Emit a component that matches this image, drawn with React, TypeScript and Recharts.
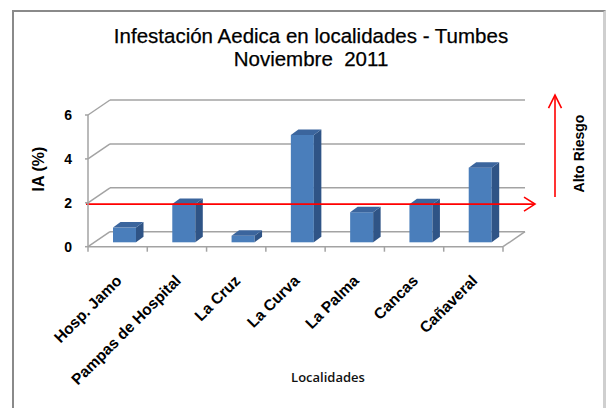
import React from 'react';
import { BarChart, Bar, XAxis, YAxis, CartesianGrid, ReferenceLine, Customized } from 'recharts';

const categories = ['Hosp. Jamo', 'Pampas de Hospital', 'La Cruz', 'La Curva', 'La Palma', 'Cancas', 'Cañaveral'];
const iaValues = [0.67, 1.74, 0.3, 4.89, 1.37, 1.73, 3.4];
const yTicks = [0, 2, 4, 6];
const riskThreshold = 1.94;
const titleLines = ['Infestación Aedica en localidades - Tumbes', 'Noviembre  2011'];
const yAxisTitle = 'IA (%)';
const xAxisTitle = 'Localidades';
const riskLabel = 'Alto Riesgo';

const data = categories.map((name, i) => ({ name, ia: iaValues[i] }));

const FONT = '"Liberation Sans", Arial, sans-serif';
const GRID = '#a3a3a3';
const RED = '#ff0000';
const DX = 22;
const DY = -15;
const BOX = 7;
const BOY = -4.4;
const BDX = 7.5;
const BDY = -5.5;

const GridLine = (props: any) => {
  const { x1, y1, x2, y2, index } = props;
  return (
    <g>
      <line x1={x1} y1={y1} x2={x1 + DX} y2={y1 + DY} stroke={GRID} strokeWidth={1.5} />
      <line x1={x1 + DX} y1={y1 + DY} x2={x2 + DX} y2={y2 + DY} stroke={GRID} strokeWidth={1.5} />
      {index === 0 && <line x1={x2} y1={y2} x2={x2 + DX} y2={y2 + DY} stroke={GRID} strokeWidth={1.5} />}
    </g>
  );
};

const Bar3D = (props: any) => {
  const { x, y, width, height } = props;
  if (height == null || isNaN(height)) return null;
  const fx = x + BOX;
  const fy = y + BOY;
  const w = width;
  const h = height;
  const top = `${fx},${fy} ${fx + BDX},${fy + BDY} ${fx + w + BDX},${fy + BDY} ${fx + w},${fy}`;
  const side = `${fx + w},${fy} ${fx + w + BDX},${fy + BDY} ${fx + w + BDX},${fy + h + BDY} ${fx + w},${fy + h}`;
  return (
    <g>
      <rect x={fx} y={fy} width={w} height={h} fill="#4a7ebb" />
      <polygon points={side} fill="#2f5486" />
      <polygon points={top} fill="#3b659d" />
    </g>
  );
};

const RiskArrows = (props: any) => {
  const { x1, y1, x2 } = props;
  const tipX = x2 + 32;
  const vx = x2 + 52;
  const vTop = y1 - 109;
  const vBottom = y1 - 7;
  return (
    <g fill="none" stroke={RED} strokeWidth={1.6}>
      <line x1={x1 - 2} y1={y1} x2={tipX} y2={y1} />
      <polyline points={`${tipX - 11},${y1 - 7} ${tipX},${y1} ${tipX - 11},${y1 + 7}`} />
      <line x1={vx} y1={vBottom} x2={vx} y2={vTop} />
      <polyline points={`${vx - 6.5},${vTop + 13} ${vx},${vTop} ${vx + 6.5},${vTop + 13}`} />
    </g>
  );
};

const CatTick = (props: any) => {
  const { x, y, payload, index } = props;
  const half = payload && payload.offset ? payload.offset : 29.6;
  const ax = x + 5;
  const ay = y + 35;
  return (
    <g>
      <line x1={x - half} y1={y} x2={x - half} y2={y + 5} stroke={GRID} strokeWidth={1.5} />
      {index === categories.length - 1 && (
        <line x1={x + half} y1={y} x2={x + half} y2={y + 5} stroke={GRID} strokeWidth={1.5} />
      )}
      <text
        x={ax}
        y={ay}
        transform={`rotate(-45 ${ax} ${ay})`}
        textAnchor="end"
        fontFamily={FONT}
        fontWeight="bold"
        fontSize={15.5}
        fill="#000"
      >
        {payload.value}
      </text>
    </g>
  );
};

const Decorations = () => (
  <g>
    {titleLines.map((t, i) => (
      <text
        key={i}
        x={311}
        y={43 + i * 23}
        textAnchor="middle"
        fontFamily={FONT}
        fontSize={20.5}
        fill="#000"
        stroke="#000"
        strokeWidth={0.25}
        style={{ whiteSpace: 'pre' }}
      >
        {t}
      </text>
    ))}
    <text
      x={38}
      y={169}
      transform="rotate(-90 38 169)"
      textAnchor="middle"
      dominantBaseline="central"
      fontFamily={FONT}
      fontWeight="bold"
      fontSize={16}
      fill="#000"
    >
      {yAxisTitle}
    </text>
    <text
      x={579}
      y={153.5}
      transform="rotate(-90 579 153.5)"
      textAnchor="middle"
      dominantBaseline="central"
      fontFamily={FONT}
      fontWeight="bold"
      fontSize={14}
      fill="#000"
    >
      {riskLabel}
    </text>
    <text
      x={328}
      y={377}
      textAnchor="middle"
      dominantBaseline="central"
      fontFamily='"Open Sans", sans-serif'
      fontWeight={600}
      fontSize={13}
      fill="#111"
    >
      {xAxisTitle}
    </text>
  </g>
);

export default function App() {
  return (
    <div style={{ position: 'absolute', left: 0, top: 0, width: 613, height: 408, background: '#fff', overflow: 'hidden' }}>
      <div
        style={{
          position: 'absolute',
          left: 12,
          top: 10,
          width: 594,
          height: 420,
          borderTop: '2px solid #8a8a8a',
          borderLeft: '2px solid #8a8a8a',
          borderRight: '3px solid #cfcfcf',
          boxSizing: 'border-box',
        }}
      />
      <div style={{ position: 'absolute', left: 0, top: 0 }}>
        <BarChart
          width={613}
          height={408}
          data={data}
          margin={{ top: 115, right: 110, bottom: 131.3, left: 28 }}
          style={{ fontFamily: FONT }}
        >
          <CartesianGrid vertical={false} horizontal={GridLine as any} stroke={GRID} />
          <XAxis
            dataKey="name"
            height={30}
            interval={0}
            tickSize={0}
            tickMargin={0}
            tickLine={false}
            axisLine={{ stroke: GRID, strokeWidth: 1.5 }}
            tick={CatTick as any}
          />
          <YAxis
            width={60}
            domain={[0, 6]}
            ticks={yTicks}
            interval={0}
            tickSize={3}
            tickMargin={13}
            axisLine={{ stroke: GRID, strokeWidth: 1.5 }}
            tickLine={{ stroke: GRID, strokeWidth: 1.5 }}
            tick={{ fill: '#000', fontWeight: 'bold', fontSize: 14, fontFamily: FONT }}
          />
          <Bar dataKey="ia" barSize={23} shape={Bar3D as any} isAnimationActive={false} />
          <ReferenceLine y={riskThreshold} shape={RiskArrows as any} ifOverflow="visible" />
          <Customized component={Decorations} />
        </BarChart>
      </div>
    </div>
  );
}
